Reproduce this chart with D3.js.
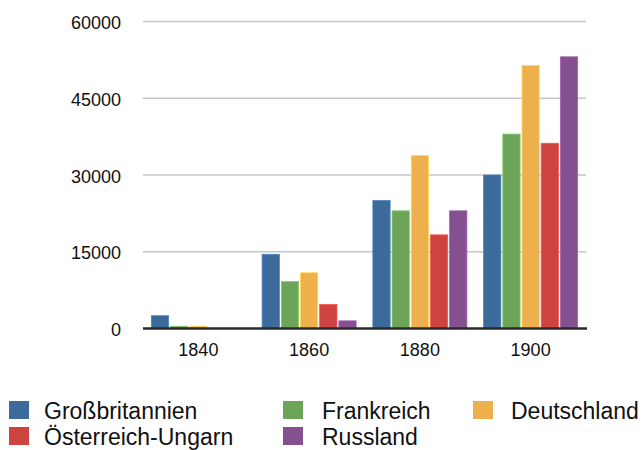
<!DOCTYPE html>
<html>
<head>
<meta charset="utf-8">
<script src="https://cdn.jsdelivr.net/npm/d3@7"></script>
<style>
  html, body { margin: 0; padding: 0; background: #fff; }
  svg { display: block; }
  text { font-family: "Liberation Sans", Arial, Helvetica, sans-serif; fill: #111; }
</style>
</head>
<body>
<svg id="chart" width="644" height="450"></svg>
<script>
// Data
const years = ["1840", "1860", "1880", "1900"];
const countries = ["Großbritannien", "Frankreich", "Deutschland", "Österreich-Ungarn", "Russland"];
const grossbritannien = [2500, 14500, 25000, 30000];
const frankreich = [450, 9200, 23000, 38000];
const deutschland = [450, 10900, 33800, 51400];
const oesterreich = [0, 4700, 18300, 36200];
const russland = [0, 1500, 23000, 53100];
const yTicks = [0, 15000, 30000, 45000, 60000];

const seriesValues = [grossbritannien, frankreich, deutschland, oesterreich, russland];
const colors = ["#3b6a9b", "#6ca557", "#edb04c", "#cc4340", "#845090"];

const svg = d3.select("#chart");

// Scales
const x0 = d3.scaleBand()
    .domain(years)
    .range([143, 586])
    .paddingInner(0.151)
    .paddingOuter(0.0755);

const x1 = d3.scaleBand()
    .domain(countries)
    .range([0, x0.bandwidth()])
    .paddingInner(0.1);

const y = d3.scaleLinear()
    .domain([0, 60000])
    .range([328.5, 21.5]);

// Gridlines
svg.append("g")
    .selectAll("line")
    .data(yTicks.slice(1))
    .enter().append("line")
    .attr("x1", 143)
    .attr("x2", 586)
    .attr("y1", d => y(d))
    .attr("y2", d => y(d))
    .attr("stroke", "#c6c6c6")
    .attr("stroke-width", 1.5);

// Y labels
svg.append("g")
    .selectAll("text")
    .data(yTicks)
    .enter().append("text")
    .attr("x", 121)
    .attr("y", d => y(d) + 7.5)
    .attr("text-anchor", "end")
    .style("font-size", "18px")
    .text(d => d);

// Bars
const groups = svg.append("g")
    .selectAll("g")
    .data(years)
    .enter().append("g")
    .attr("transform", d => `translate(${x0(d)},0)`);

groups.selectAll("rect")
    .data((d, i) => countries.map((c, j) => ({ country: c, value: seriesValues[j][i], color: colors[j] })))
    .enter().append("rect")
    .attr("x", d => x1(d.country))
    .attr("width", x1.bandwidth())
    .attr("y", d => y(d.value))
    .attr("height", d => y(0) - y(d.value))
    .attr("fill", d => d.color)
    .attr("stroke", d => d3.color(d.color).brighter(0.6))
    .attr("stroke-width", 0.8);

// Baseline
svg.append("line")
    .attr("x1", 143)
    .attr("x2", 587)
    .attr("y1", y(0))
    .attr("y2", y(0))
    .attr("stroke", "#2a2a2a")
    .attr("stroke-width", 2.5);

// X labels
svg.append("g")
    .selectAll("text")
    .data(years)
    .enter().append("text")
    .attr("x", d => x0(d) + x0.bandwidth() / 2)
    .attr("y", 356)
    .attr("text-anchor", "middle")
    .style("font-size", "18px")
    .text(d => d);

// Legend
const legendPos = [
    { sx: 9, tx: 44, y: 401 },
    { sx: 283, tx: 322, y: 401 },
    { sx: 473, tx: 511, y: 401 },
    { sx: 9, tx: 44, y: 427 },
    { sx: 283, tx: 322, y: 427 }
];

const legend = svg.append("g")
    .selectAll("g")
    .data(countries)
    .enter().append("g");

legend.append("rect")
    .attr("x", (d, i) => legendPos[i].sx)
    .attr("y", (d, i) => legendPos[i].y)
    .attr("width", 20)
    .attr("height", 18)
    .attr("fill", (d, i) => colors[i]);

legend.append("text")
    .attr("x", (d, i) => legendPos[i].tx)
    .attr("y", (d, i) => legendPos[i].y + 18)
    .style("font-size", "23px")
    .text(d => d);
</script>
</body>
</html>
